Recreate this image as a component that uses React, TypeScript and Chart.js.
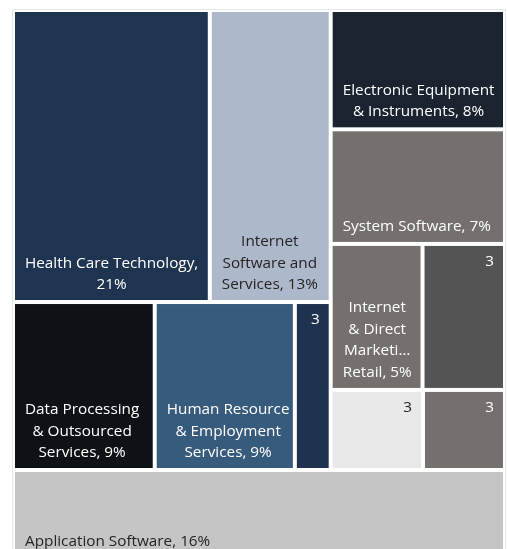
import React, { useEffect, useRef } from "react";
import { Chart, registerables } from "chart.js";

Chart.register(...registerables);

// ---- data ----
const categories = [
  "Health Care Technology",
  "Internet Software and Services",
  "Data Processing & Outsourced Services",
  "Human Resource & Employment Services",
  "Other (a)",
  "Electronic Equipment & Instruments",
  "System Software",
  "Internet & Direct Marketing Retail",
  "Other (b)",
  "Other (c)",
  "Other (d)",
  "Application Software",
];

const values = [21, 12.9, 8.7, 8.6, 2.2, 7.6, 7.3, 4.9, 4.4, 2.7, 2.4, 16];

const labelLines: string[][] = [
  ["Health Care Technology,", "21%"],
  ["Internet", "Software and", "Services, 13%"],
  ["Data Processing", "& Outsourced", "Services, 9%"],
  ["Human Resource", "& Employment", "Services, 9%"],
  [],
  ["Electronic Equipment", "& Instruments, 8%"],
  ["System Software, 7%"],
  ["Internet", "& Direct", "Marketi\u2026", "Retail, 5%"],
  [],
  [],
  [],
  ["Application Software, 16%"],
];

const valueLabels = ["", "", "", "", "3", "", "", "", "3", "3", "3", ""];

const colors = [
  "#1f3450",
  "#adb8ca",
  "#0e1217",
  "#375b7c",
  "#1f3350",
  "#1b2330",
  "#75706e",
  "#75706e",
  "#545454",
  "#e8e8e8",
  "#75706e",
  "#c5c5c5",
];

const textColors = [
  "#ffffff",
  "#252423",
  "#ffffff",
  "#ffffff",
  "#ffffff",
  "#ffffff",
  "#ffffff",
  "#ffffff",
  "#ffffff",
  "#252423",
  "#ffffff",
  "#252423",
];

// split structure (indexes into the arrays above); "v" stacks vertically, "h" side by side
type Node = number | { dir: "h" | "v"; children: Node[] };
const layoutTree: Node = {
  dir: "v",
  children: [
    {
      dir: "h",
      children: [
        {
          dir: "v",
          children: [
            { dir: "h", children: [0, 1] },
            { dir: "h", children: [2, 3, 4] },
          ],
        },
        {
          dir: "v",
          children: [5, 6, { dir: "h", children: [7, 8] }, { dir: "h", children: [9, 10] }],
        },
      ],
    },
    11,
  ],
};

type Rect = { i: number; x0: number; y0: number; x1: number; y1: number };

function nodeSum(n: Node): number {
  if (typeof n === "number") return values[n];
  return n.children.reduce((s, c) => s + nodeSum(c), 0);
}

function layout(n: Node, x0: number, y0: number, x1: number, y1: number, out: Rect[]) {
  if (typeof n === "number") {
    out.push({ i: n, x0, y0, x1, y1 });
    return;
  }
  const total = nodeSum(n);
  let pos = n.dir === "h" ? x0 : y0;
  for (const c of n.children) {
    const f = nodeSum(c) / total;
    if (n.dir === "h") {
      const w = (x1 - x0) * f;
      layout(c, pos, y0, pos + w, y1, out);
      pos += w;
    } else {
      const h = (y1 - y0) * f;
      layout(c, x0, pos, x1, pos + h, out);
      pos += h;
    }
  }
}

const FONT = "15.3px 'Open Sans', 'Noto Sans', sans-serif";
const GAP = 2;

const treemapPlugin = {
  id: "treemapCells",
  afterDatasetsDraw(chart: any) {
    const { ctx, chartArea } = chart;
    const xs = chart.scales.x;
    const ys = chart.scales.y;
    const rects: Rect[] = [];
    layout(layoutTree, 0, 0, 1, 1, rects);

    ctx.save();
    // outer frame
    ctx.strokeStyle = "#e6e6e6";
    ctx.lineWidth = 1;
    ctx.strokeRect(
      chartArea.left - 0.5,
      chartArea.top - 0.5,
      chartArea.right - chartArea.left + 1,
      chartArea.bottom - chartArea.top + 1
    );

    for (const r of rects) {
      const px0 = xs.getPixelForValue(r.x0) + GAP;
      const px1 = xs.getPixelForValue(r.x1) - GAP;
      const py0 = ys.getPixelForValue(r.y0) + GAP;
      const py1 = ys.getPixelForValue(r.y1) - GAP;
      ctx.fillStyle = colors[r.i];
      ctx.fillRect(px0, py0, px1 - px0, py1 - py0);

      ctx.font = FONT;
      ctx.fillStyle = textColors[r.i];
      ctx.textBaseline = "alphabetic";
      const lines = labelLines[r.i];
      if (lines.length) {
        const bw = Math.max(...lines.map((l) => ctx.measureText(l).width));
        const cx = px0 + 10 + bw / 2;
        ctx.textAlign = "center";
        const n = lines.length;
        lines.forEach((l, k) => {
          const by = py1 - 11 - (n - 1 - k) * 21.5;
          ctx.fillText(l, cx, by);
        });
      }
      const v = valueLabels[r.i];
      if (v) {
        ctx.textAlign = "right";
        ctx.fillText(v, px1 - 9, py0 + 20);
      }
    }
    ctx.restore();
  },
};

export default function App() {
  const ref = useRef<HTMLCanvasElement | null>(null);
  useEffect(() => {
    if (!ref.current) return;
    const chart = new Chart(ref.current, {
      type: "scatter",
      data: {
        labels: categories,
        datasets: [{ label: "Sectors", data: [], pointRadius: 0 }],
      },
      options: {
        responsive: false,
        animation: false,
        layout: { padding: { left: 13, top: 10, right: 3, bottom: 3 } },
        scales: {
          x: { type: "linear", min: 0, max: 1, display: false },
          y: { type: "linear", min: 0, max: 1, reverse: true, display: false },
        },
        plugins: { legend: { display: false }, tooltip: { enabled: false } },
      },
      plugins: [treemapPlugin],
    });
    return () => chart.destroy();
  }, []);
  return (
    <div
      style={{
        position: "fixed",
        left: 0,
        top: 0,
        width: 508,
        height: 549,
        overflow: "hidden",
        background: "#ffffff",
      }}
    >
      <canvas ref={ref} width={508} height={562} style={{ display: "block" }} />
    </div>
  );
}
